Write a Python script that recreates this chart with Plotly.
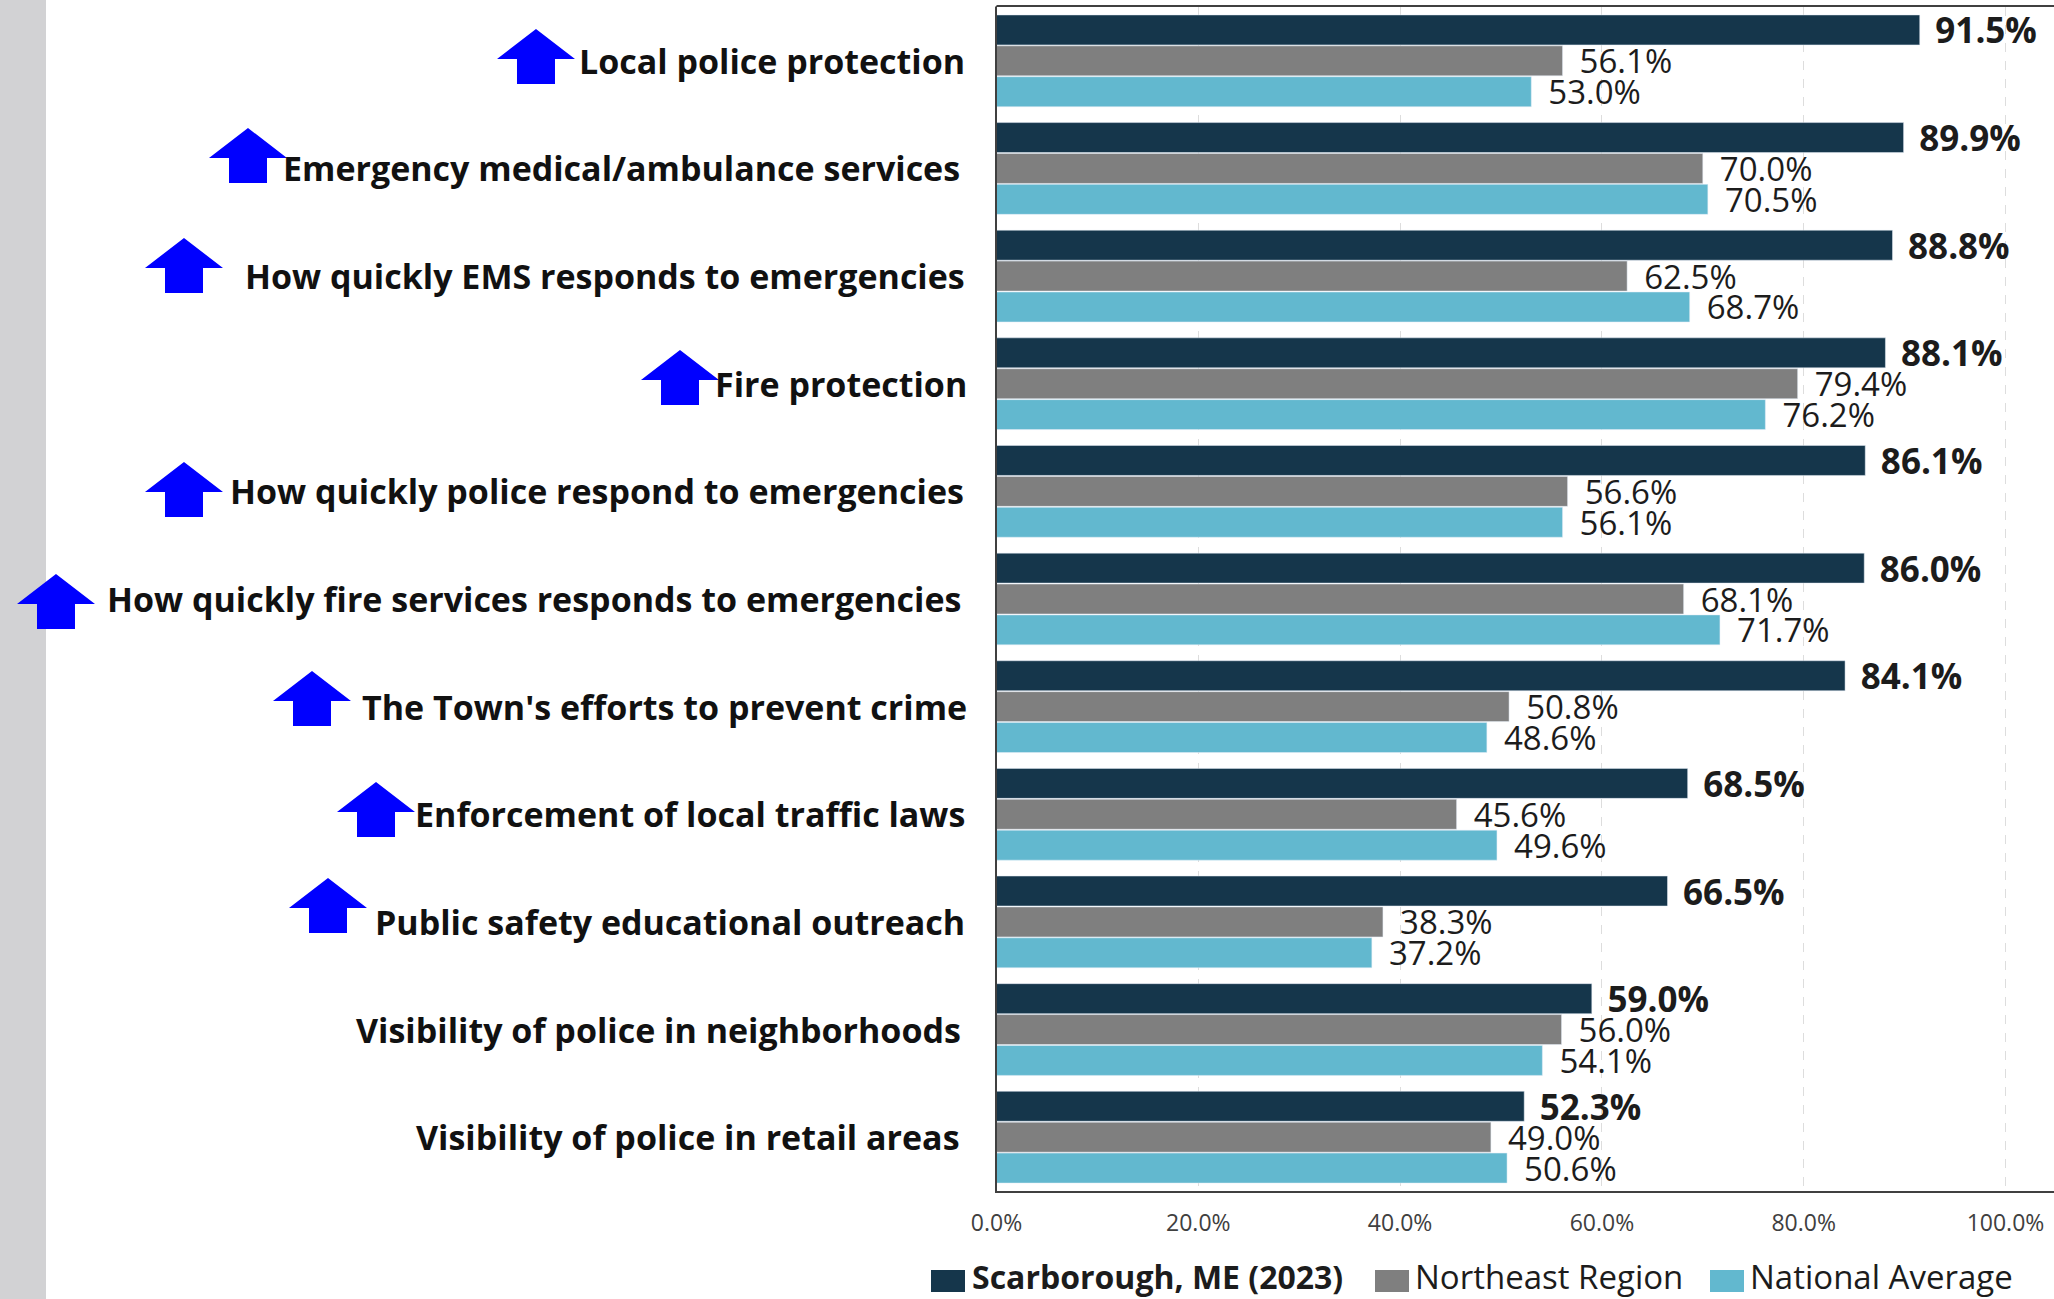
import plotly.graph_objects as go

W, H = 2054, 1299
categories = ["Local police protection", "Emergency medical/ambulance services",
              "How quickly EMS responds to emergencies", "Fire protection",
              "How quickly police respond to emergencies",
              "How quickly fire services responds to emergencies",
              "The Town's efforts to prevent crime", "Enforcement of local traffic laws",
              "Public safety educational outreach", "Visibility of police in neighborhoods",
              "Visibility of police in retail areas"]
scarborough = [91.5, 89.9, 88.8, 88.1, 86.1, 86.0, 84.1, 68.5, 66.5, 59.0, 52.3]
northeast = [56.1, 70.0, 62.5, 79.4, 56.6, 68.1, 50.8, 45.6, 38.3, 56.0, 49.0]
national = [53.0, 70.5, 68.7, 76.2, 56.1, 71.7, 48.6, 49.6, 37.2, 54.1, 50.6]
tick_vals = [0, 20, 40, 60, 80, 100]
tick_text = ["0.0%", "20.0%", "40.0%", "60.0%", "80.0%", "100.0%"]
label_right = [967, 962, 967, 969, 966, 963, 969, 967, 967, 963, 962]
arrow_center = [536, 248, 184, 680, 184, 56, 312, 376, 328]
arrow_top = [29, 128, 238, 350, 462, 574, 671, 782, 878]
legend_names = ["<b>Scarborough, ME (2023)</b>", "Northeast Region", "National Average"]
legend_font_sizes = [32, 33, 33]
legend_swatch_x = [931, 1375, 1710]
legend_text_x = [970, 1413, 1748]

FONT = "Open Sans"
L, T, B = 996.5, 7, 1191
FRAME_TOP = 6
fx = lambda p: p / W
fy = lambda p: 1 - p / H
colors = ["#15364b", "#7f7f7f", "#62b8cf"]

fig = go.Figure()
series = [("Scarborough, ME (2023)", scarborough, colors[0], True, 35),
          ("Northeast Region", northeast, colors[1], False, 33),
          ("National Average", national, colors[2], False, 33)]
for name, vals, color, bold, size in series:
    tmpl = "\u00a0\u200a<b>%{x:.1f}%</b>" if bold else "\u00a0\u2009%{x:.1f}%"
    fig.add_trace(go.Bar(y=categories, x=vals, name=name, orientation="h",
                         marker=dict(color=color), showlegend=False,
                         texttemplate=tmpl, textposition="outside", cliponaxis=False,
                         constraintext="none",
                         textfont=dict(family=FONT, size=size, color="#1c1c1c")))

shapes = [dict(type="rect", xref="paper", yref="paper", x0=0, x1=fx(46), y0=0, y1=1,
               fillcolor="#d2d2d4", line_width=0, layer="below")]
for cx, top in zip(arrow_center, arrow_top):
    pts = [(cx, top), (cx + 39, top + 30), (cx + 19, top + 30), (cx + 19, top + 55),
           (cx - 19, top + 55), (cx - 19, top + 30), (cx - 39, top + 30)]
    path = "M" + " L".join(f"{fx(a):.5f},{fy(b):.5f}" for a, b in pts) + " Z"
    shapes.append(dict(type="path", xref="paper", yref="paper", path=path,
                       fillcolor="#0000ff", line_width=0))
shapes.append(dict(type="line", xref="paper", yref="paper", x0=fx(L), x1=1,
                   y0=fy(FRAME_TOP), y1=fy(FRAME_TOP), line=dict(color="#404040", width=2)))
shapes.append(dict(type="line", xref="paper", yref="paper", x0=fx(L), x1=fx(L),
                   y0=fy(FRAME_TOP), y1=fy(T), line=dict(color="#404040", width=2)))
for sx, color in zip(legend_swatch_x, colors):
    shapes.append(dict(type="rect", xref="paper", yref="paper", x0=fx(sx), x1=fx(sx + 34),
                       y0=fy(1292), y1=fy(1270), fillcolor=color, line_width=0))

annotations = [dict(xref="paper", yref="y", x=fx(r), y=c, text=f"<b>{c}</b>", showarrow=False,
                    xanchor="right", yanchor="middle",
                    font=dict(family=FONT, size=34, color="#111111"))
               for c, r in zip(categories, label_right)]
for name, tx, fs in zip(legend_names, legend_text_x, legend_font_sizes):
    annotations.append(dict(xref="paper", yref="paper", x=fx(tx), y=fy(1276), text=name,
                            showarrow=False, xanchor="left", yanchor="middle",
                            font=dict(family=FONT, size=fs, color="#1c1c1c")))

fig.update_layout(
    width=W, height=H, autosize=False, paper_bgcolor="white", plot_bgcolor="white",
    margin=dict(l=0, r=0, t=0, b=0, autoexpand=False),
    barmode="group", bargap=0.139, bargroupgap=0.03,
    shapes=shapes, annotations=annotations, showlegend=False,
    xaxis=dict(domain=[fx(L), 1], range=[0, (W - L) / 10.09], tickvals=tick_vals, ticktext=tick_text,
               showgrid=True, gridcolor="#dddddd", griddash="dash", gridwidth=1, zeroline=False,
               showline=True, linecolor="#404040", linewidth=2, ticks="", ticklabelstandoff=10,
               tickfont=dict(family=FONT, size=23, color="#404040")),
    yaxis=dict(domain=[fy(B), fy(T)], autorange="reversed", showticklabels=False, showgrid=False,
               zeroline=False, showline=True, linecolor="#404040", linewidth=2, ticks=""),
)
fig.write_html("out.html", config={"displayModeBar": False},
               post_script="document.body.style.margin='0';document.body.style.overflow='hidden';")
